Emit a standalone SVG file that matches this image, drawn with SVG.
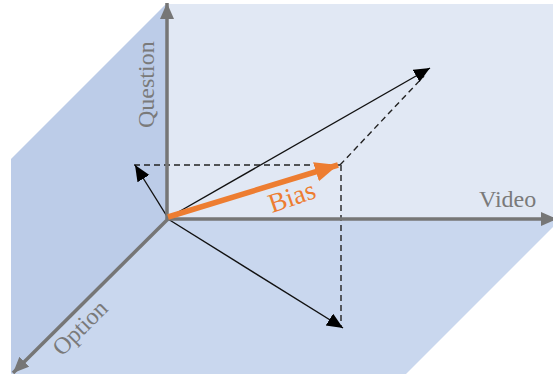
<svg xmlns="http://www.w3.org/2000/svg" width="553" height="374" viewBox="0 0 553 374">
<style>
.axis{stroke:#767676;stroke-width:3.5;fill:none}
.vec{stroke:#111;stroke-width:1.4;fill:none}
.dash{stroke:#222;stroke-width:1.4;stroke-dasharray:6 4;fill:none}
.lbl{font-family:"Liberation Serif","Times New Roman",serif;font-size:24px;fill:#7a7a7a}
.bias{font-family:"Liberation Serif","Times New Roman",serif;font-size:27px;fill:#ED7D31}
</style>
<defs>
<marker id="ah" markerUnits="userSpaceOnUse" markerWidth="18" markerHeight="16" refX="16" refY="7" orient="auto"><path d="M0,0 L16,7 L0,14 z" fill="#000"/></marker>
<marker id="ag" markerUnits="userSpaceOnUse" markerWidth="18" markerHeight="16" refX="16" refY="7" orient="auto"><path d="M0,0 L16,7 L0,14 z" fill="#767676"/></marker>
<marker id="ao" markerUnits="userSpaceOnUse" markerWidth="26" markerHeight="22" refX="23" refY="10" orient="auto"><path d="M0,0 L23,10 L0,20 z" fill="#ED7D31"/></marker>
</defs>
<g id="planes">
<rect x="167" y="4" width="386" height="215" fill="#E1E8F4"/>
<polygon points="11,159 166,4 168,219 11,374" fill="#BCCCE8"/>
<polygon points="168,219 553,219 553,227 406,374 11,374" fill="#C9D7EE"/>
</g>
<g id="connectors">
<line class="dash" x1="134" y1="165" x2="340" y2="165"/>
<line class="dash" x1="341" y1="165" x2="341" y2="326"/>
<line class="dash" x1="340" y1="165" x2="424" y2="76"/>
<line class="vec" x1="168" y1="218" x2="430" y2="68" marker-end="url(#ah)"/>
<line class="vec" x1="168" y1="218" x2="135" y2="165" marker-end="url(#ah)"/>
<line class="vec" x1="168" y1="219" x2="343" y2="328" marker-end="url(#ah)"/>
</g>
<g id="axis-question">
<line class="axis" x1="167" y1="219" x2="167" y2="3" marker-end="url(#ag)"/>
<text class="lbl" transform="translate(154,128) rotate(-90)">Question</text>
</g>
<g id="axis-video">
<line class="axis" x1="166" y1="219" x2="557" y2="219" marker-end="url(#ag)"/>
<text class="lbl" x="479" y="207">Video</text>
</g>
<g id="axis-option">
<line class="axis" x1="168" y1="219" x2="13" y2="373" marker-end="url(#ag)"/>
<text class="lbl" transform="translate(62,357) rotate(-45)">Option</text>
</g>
<g id="bias">
<line x1="168" y1="217" x2="338" y2="165" stroke="#ED7D31" stroke-width="5.5" marker-end="url(#ao)"/>
<text class="bias" transform="translate(272,213) rotate(-19)">Bias</text>
</g>
</svg>
